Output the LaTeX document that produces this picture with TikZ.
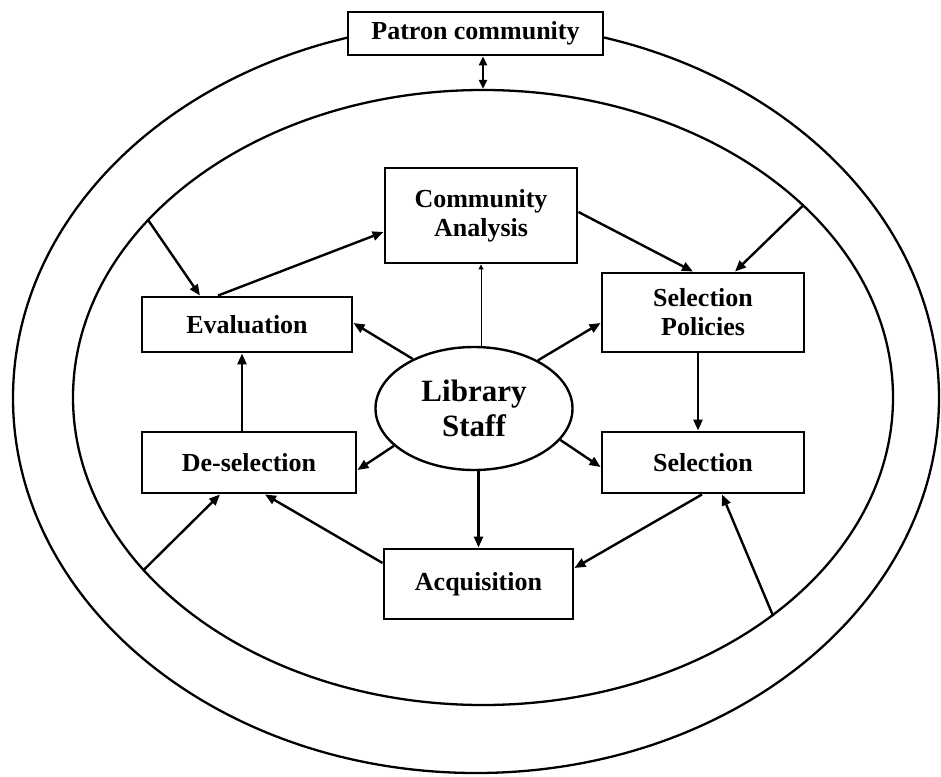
\documentclass[tikz,border=0pt]{standalone}
\usepackage{fontspec}
\setmainfont{Liberation Serif}
\usetikzlibrary{shapes.geometric,arrows.meta}
\begin{document}
\begin{tikzpicture}[x=1pt,y=-1pt,
  box/.style={draw, line width=2.9pt, fill=white, inner sep=0pt, align=center,
    font=\fontsize{26}{29}\selectfont\bfseries},
  ring/.style={draw, ellipse, line width=2.3pt, inner sep=0pt},
  arr/.style={line width=2.4pt, -{Triangle[length=11pt,width=9pt]}},
  dbl/.style={line width=2.4pt, {Triangle[length=9pt,width=8pt]}-{Triangle[length=9pt,width=8pt]}},
  thin/.style={line width=1pt, -{Triangle[length=5pt,width=5pt]}}]
\useasboundingbox (0,0) rectangle (941,776);
\fill[white] (0,0) rectangle (941,776);
% rings
\node[ring, minimum width=926pt, minimum height=750pt] (outer) at (476,398) {};
\node[ring, minimum width=820pt, minimum height=615pt] (inner) at (483,397.5) {};
% boxes
\node[box, minimum width=255pt, minimum height=43pt] (patron) at (475.5,33.5) {Patron community};
\node[box, minimum width=192pt, minimum height=95pt] (ca) at (481,215.5) {Community\\Analysis};
\node[box, minimum width=210pt, minimum height=55pt] (eval) at (247,324.5) {Evaluation};
\node[box, minimum width=202pt, minimum height=79pt] (sp) at (703,312.5) {Selection\\Policies};
\node[box, minimum width=214pt, minimum height=61pt] (desel) at (249,462.5) {De-selection};
\node[box, minimum width=202pt, minimum height=61pt] (sel) at (703,462.5) {Selection};
\node[box, minimum width=189pt, minimum height=70pt] (acq) at (478.5,584) {Acquisition};
\node[draw, ellipse, line width=2.4pt, fill=white, inner sep=0pt, minimum width=197pt,
  minimum height=123pt, align=center, font=\fontsize{31}{35}\selectfont\bfseries]
  (ls) at (474,408.5) {Library\\Staff};
% connectors
\draw[dbl] (patron.south -| inner.north) -- (inner.north);
\draw[arr] ([xshift=-29pt]eval.north) -- ([yshift=-16.5pt]ca.west);
\draw[arr] (inner.152.2) -- ([xshift=-47pt]eval.north);
\draw[arr] ([yshift=3.5pt]ca.east) -- ([xshift=-10pt]sp.north);
\draw[arr] (inner.31.4) -- ([xshift=32pt]sp.north);
\draw[arr] (ls.141.7) -- ([yshift=1.5pt]eval.east);
\draw[arr] (ls.37) -- ([yshift=-10.5pt]sp.west);
\draw[arr] ([xshift=-5pt]sp.south) -- ([xshift=-5pt]sel.north);
\draw[arr] (ls.-20.5) -- ([yshift=-4.5pt]sel.west);
\draw[arr] (ls.205.6) -- ([yshift=-7.5pt]desel.east);
\draw[arr] ([xshift=-7pt]desel.north) -- ([xshift=-5pt]eval.south);
\draw[arr] (ls.south -| acq.north) -- (acq.north);
\draw[arr] ([xshift=-1pt]sel.south) -- ([yshift=16pt]acq.east);
\draw[arr] ([yshift=21pt]acq.west) -- ([xshift=16pt]desel.south);
\draw[arr] (inner.207) -- ([xshift=-29pt]desel.south);
\draw[arr] (inner.323.1) -- ([xshift=19pt]sel.south);
\draw[thin] (ls.north -| ca.south) -- (ca.south);
\end{tikzpicture}
\end{document}
